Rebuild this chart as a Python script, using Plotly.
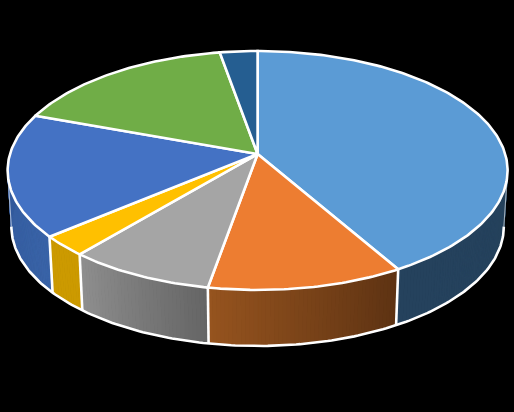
import numpy as np
import plotly.graph_objects as go

# slice sizes, clockwise from 12 o'clock
values = [15, 4, 3, 1, 6, 6, 1]
top_colours = ["#5B9BD5", "#ED7D31", "#A5A5A5", "#FFC000", "#4472C4", "#70AD47", "#255E91"]
# wall gradient, colour at the start and end of each slice
wall_start = ["#24405A", "#5E3313", "#666666", "#CC9A00", "#3A64A8", "#4A7A2E", "#1A4468"]
wall_end = ["#26435E", "#96541F", "#8F8F8F", "#CC9A00", "#2F5597", "#4A7A2E", "#1A4468"]

# projection of the tilted disc into page pixels
WIDTH = 514
HEIGHT = 412
CX = 257.6
CY = 154
RX = 247.6
RY = 117.2
PERSP = 0.138
DEPTH = 56
BOTTOM_SCALE = 0.985
STEPS_PER_VALUE = 12
LINE_W = 2.6
RIM_START = 98
RIM_END = 262


def top_xy(deg):
    a = np.radians(deg)
    u, v = np.sin(a), np.cos(a)
    w = 1 + PERSP * v
    return CX + RX * u / w, CY - RY * v / w


def bottom_xy(deg):
    x, y = top_xy(deg)
    return CX + (x - CX) * BOTTOM_SCALE, y + DEPTH


def hex_rgb(c):
    return np.array([int(c[i:i + 2], 16) for i in (1, 3, 5)])


def white_line(xs, ys, width=LINE_W, colour="white"):
    return go.Scatter(x=xs, y=ys, mode="lines", line=dict(color=colour, width=width),
                      hoverinfo="skip", showlegend=False)


edges = np.cumsum([0] + values) / sum(values) * 360

fig = go.Figure()

# front walls, cut into thin strips to get the gradient
for i in range(len(values)):
    a0, a1 = edges[i], edges[i + 1]
    n = max(2, values[i] * STEPS_PER_VALUE)
    angs = np.linspace(a0, a1, n + 1)
    c0, c1 = hex_rgb(wall_start[i]), hex_rgb(wall_end[i])
    for j in range(n):
        if np.cos(np.radians((angs[j] + angs[j + 1]) / 2)) > 0.15:
            continue  # back of the disc, hidden anyway
        f = j / max(1, n - 1)
        col = c0 + (c1 - c0) * f
        col = "rgb(%d,%d,%d)" % tuple(col)
        x0, y0 = top_xy(angs[j])
        x1, y1 = top_xy(angs[j + 1])
        x2, y2 = bottom_xy(angs[j + 1])
        x3, y3 = bottom_xy(angs[j])
        fig.add_trace(go.Scatter(x=[x0, x1, x2, x3, x0], y=[y0, y1, y2, y3, y0],
                                 mode="lines", fill="toself", fillcolor=col,
                                 line=dict(color=col, width=1),
                                 hoverinfo="skip", showlegend=False))

# faint edges where the wall leaves the disc at both sides
for a in (RIM_START, RIM_END):
    x0, y0 = top_xy(a)
    x1, y1 = bottom_xy(a)
    fig.add_trace(white_line([x0, x1], [y0, y1], width=1, colour="rgba(255,255,255,0.6)"))

# bottom rim and the wall seams
rim = np.linspace(RIM_START, RIM_END, 200)
bx, by = bottom_xy(rim)
fig.add_trace(white_line(bx, by))
for e in edges[1:-1]:
    if np.cos(np.radians(e)) < 0:
        x0, y0 = top_xy(e)
        x1, y1 = bottom_xy(e)
        fig.add_trace(white_line([x0, x1], [y0, y1]))

# top face
for i in range(len(values)):
    angs = np.linspace(edges[i], edges[i + 1], max(8, values[i] * STEPS_PER_VALUE))
    ax, ay = top_xy(angs)
    xs = [CX] + list(ax) + [CX]
    ys = [CY] + list(ay) + [CY]
    fig.add_trace(go.Scatter(x=xs, y=ys, mode="lines", fill="toself",
                             fillcolor=top_colours[i],
                             line=dict(color="white", width=LINE_W),
                             name=str(values[i]), hoverinfo="skip", showlegend=False))

fig.update_layout(width=WIDTH, height=HEIGHT, margin=dict(t=0, r=0, b=0, l=0),
                  paper_bgcolor="black", plot_bgcolor="black", showlegend=False)
fig.update_xaxes(range=[0, WIDTH], visible=False)
fig.update_yaxes(range=[HEIGHT, 0], visible=False)

fig.write_html("out.html", config={"displayModeBar": False},
               post_script="document.body.style.margin='0';document.body.style.background='black';")
